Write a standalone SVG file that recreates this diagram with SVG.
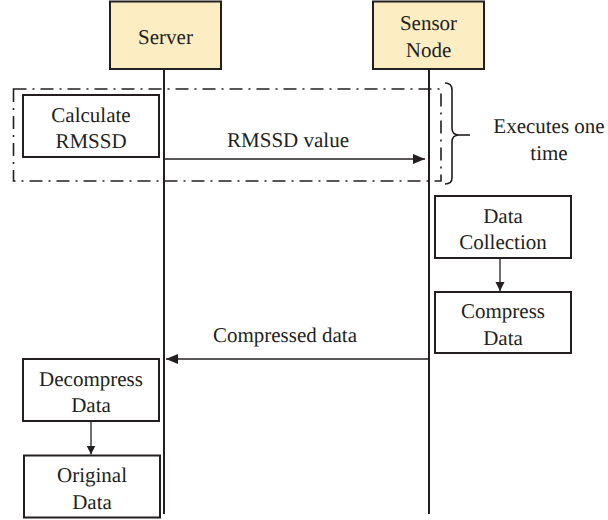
<svg xmlns="http://www.w3.org/2000/svg" width="608" height="520" viewBox="0 0 608 520" text-rendering="geometricPrecision">
  <defs>
    <style>
      .t { font-family: "Liberation Serif", "Times New Roman", serif; font-size: 21px; fill: #231f20; text-anchor: middle; }
      .actor { fill: #fcedc3; stroke: #231f20; stroke-width: 2; }
      .box { fill: #ffffff; stroke: #231f20; stroke-width: 2; }
      .life { stroke: #231f20; stroke-width: 2; fill: none; }
      .msg { stroke: #231f20; stroke-width: 1.6; fill: none; }
      .step { stroke: #231f20; stroke-width: 1.3; fill: none; }
      .frame { fill: none; stroke: #231f20; stroke-width: 1.6; stroke-dasharray: 13 6 2 6; }
      .brace { fill: none; stroke: #231f20; stroke-width: 1.6; }
    </style>
    <marker id="ah" viewBox="0 0 12 10" refX="12" refY="5" markerWidth="12" markerHeight="10" markerUnits="userSpaceOnUse" orient="auto">
      <path d="M0,0 L12,5 L0,10 Z" fill="#231f20"/>
    </marker>
    <marker id="ahs" viewBox="0 0 10 10" refX="10" refY="5" markerWidth="9" markerHeight="10" markerUnits="userSpaceOnUse" orient="auto">
      <path d="M0,0 L10,5 L0,10 Z" fill="#231f20"/>
    </marker>
  </defs>
  <rect width="608" height="520" fill="#ffffff"/>

  <g id="lifelines">
    <line class="life" x1="164" y1="69" x2="164" y2="514"/>
    <line class="life" x1="429" y1="69" x2="429" y2="514"/>
  </g>

  <g id="server">
    <rect class="actor" x="110" y="1.5" width="111" height="67.5"/>
    <text class="t" x="165.5" y="44">Server</text>
  </g>
  <g id="sensor-node">
    <rect class="actor" x="373" y="1.5" width="111" height="67.5"/>
    <text class="t" x="428.5" y="30">Sensor</text>
    <text class="t" x="428.5" y="57">Node</text>
  </g>

  <g id="loop-frame">
    <rect class="frame" x="13.5" y="89" width="427.5" height="92"/>
  </g>

  <g id="calculate-rmssd">
    <rect class="box" x="23" y="95" width="136" height="62"/>
    <text class="t" x="91" y="122">Calculate</text>
    <text class="t" x="91" y="148">RMSSD</text>
  </g>

  <g id="executes-one-time">
    <path class="brace" d="M445,83 Q452,83 452,90 L452,128 Q452,135 459,135 Q452,135 452,142 L452,178 Q452,184 445,184"/>
    <line class="brace" x1="459" y1="135" x2="470" y2="135" stroke-width="2.2"/>
    <text class="t" x="549" y="133">Executes one</text>
    <text class="t" x="549" y="160">time</text>
  </g>

  <g id="data-collection">
    <rect class="box" x="435" y="196" width="136" height="62"/>
    <text class="t" x="503" y="223">Data</text>
    <text class="t" x="503" y="249">Collection</text>
  </g>
  <g id="compress-data">
    <rect class="box" x="435" y="292" width="136" height="61"/>
    <text class="t" x="503" y="318">Compress</text>
    <text class="t" x="503" y="345">Data</text>
  </g>
  <g id="decompress-data">
    <rect class="box" x="23" y="359" width="136" height="62"/>
    <text class="t" x="91" y="386">Decompress</text>
    <text class="t" x="91" y="412">Data</text>
  </g>
  <g id="original-data">
    <rect class="box" x="24" y="455.5" width="136" height="62"/>
    <text class="t" x="92" y="482">Original</text>
    <text class="t" x="92" y="509">Data</text>
  </g>

  <g id="connectors">
    <line class="msg" x1="164" y1="159" x2="425" y2="159" marker-end="url(#ah)"/>
    <text class="t" x="288" y="147">RMSSD value</text>
    <line class="msg" x1="429" y1="359" x2="166" y2="359" marker-end="url(#ah)"/>
    <text class="t" x="285" y="342">Compressed data</text>
    <line class="step" x1="500" y1="258" x2="500" y2="291" marker-end="url(#ahs)"/>
    <line class="step" x1="91" y1="421" x2="91" y2="454.5" marker-end="url(#ahs)"/>
  </g>
</svg>
